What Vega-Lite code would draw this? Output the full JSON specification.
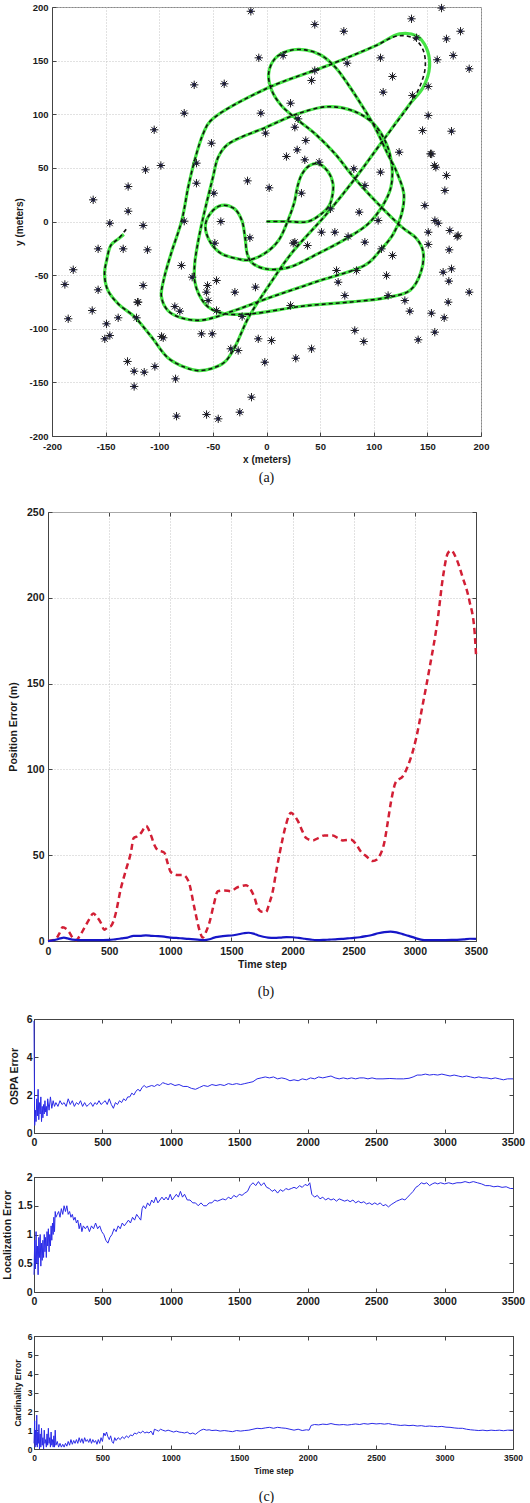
{
"$schema": "https://vega.github.io/schema/vega-lite/v6.json",
"background": "white",
"padding": {"left": 0, "top": 1, "right": 0, "bottom": 0},
"spacing": 10,
"config": {
  "font": "Liberation Sans",
  "view": {"stroke": "#888", "strokeWidth": 1},
  "axis": {"labelFont": "Liberation Sans", "labelFontWeight": "bold", "labelFontSize": 10, "labelColor": "#1a1a1a",
    "titleFont": "Liberation Sans", "titleFontWeight": "bold", "titleFontSize": 10, "titleColor": "#1a1a1a",
    "domainColor": "#444", "tickColor": "#444", "tickSize": -4, "labelPadding": 8,
    "gridColor": "#c4c4c4", "gridDash": [1, 2], "gridWidth": 1,
    "labelFlush": false, "labelOverlap": false, "labelBound": false, "labelExpr": "'' + datum.value"},
  "title": {"font": "Liberation Serif", "fontSize": 14, "fontWeight": "normal", "color": "#111"}
},
"datasets": {
  "traj": [
    {"i":0,"x":0,"y":0,"ex":0,"ey":0},{"i":1,"x":20,"y":0,"ex":20,"ey":0},{"i":2,"x":39,"y":0,"ex":39,"ey":0},{"i":3,"x":51,"y":7,"ex":51,"ey":7},
    {"i":4,"x":58,"y":14,"ex":58,"ey":14},{"i":5,"x":61,"y":22,"ex":61,"ey":22},{"i":6,"x":62,"y":35,"ex":62,"ey":35},{"i":7,"x":57,"y":47,"ex":57,"ey":47},
    {"i":8,"x":48,"y":54,"ex":48,"ey":54},{"i":9,"x":40,"y":52,"ex":40,"ey":52},{"i":10,"x":33,"y":44,"ex":33,"ey":44},{"i":11,"x":29,"y":33,"ex":29,"ey":33},
    {"i":12,"x":26,"y":18,"ex":26,"ey":18},{"i":13,"x":20,"y":1,"ex":20,"ey":1},{"i":14,"x":11,"y":-18,"ex":11,"ey":-18},{"i":15,"x":-2,"y":-30,"ex":-2,"ey":-30},
    {"i":16,"x":-17,"y":-36,"ex":-17,"ey":-36},{"i":17,"x":-26,"y":-35,"ex":-26,"ey":-35},{"i":18,"x":-42,"y":-30,"ex":-42,"ey":-30},{"i":19,"x":-52,"y":-20,"ex":-52,"ey":-20},
    {"i":20,"x":-57,"y":-4,"ex":-57,"ey":-4},{"i":21,"x":-52,"y":8,"ex":-52,"ey":8},{"i":22,"x":-42,"y":15,"ex":-42,"ey":15},{"i":23,"x":-30,"y":12,"ex":-30,"ey":12},
    {"i":24,"x":-23,"y":1,"ex":-23,"ey":1},{"i":25,"x":-20,"y":-15,"ex":-20,"ey":-15},{"i":26,"x":-18,"y":-30,"ex":-18,"ey":-30},{"i":27,"x":-14,"y":-38,"ex":-14,"ey":-38},
    {"i":28,"x":-2,"y":-44,"ex":-2,"ey":-44},{"i":29,"x":20,"y":-43,"ex":20,"ey":-43},{"i":30,"x":48,"y":-30,"ex":48,"ey":-30},{"i":31,"x":76,"y":-15,"ex":76,"ey":-15},
    {"i":32,"x":95,"y":-2,"ex":95,"ey":-2},{"i":33,"x":109,"y":16,"ex":109,"ey":16},{"i":34,"x":116,"y":32,"ex":116,"ey":32},{"i":35,"x":117,"y":51,"ex":117,"ey":51},
    {"i":36,"x":112,"y":72,"ex":112,"ey":72},{"i":37,"x":100,"y":91,"ex":100,"ey":91},{"i":38,"x":81,"y":103,"ex":81,"ey":103},{"i":39,"x":56,"y":107,"ex":56,"ey":107},
    {"i":40,"x":28,"y":100,"ex":28,"ey":100},{"i":41,"x":0,"y":88,"ex":0,"ey":88},{"i":42,"x":-36,"y":72,"ex":-36,"ey":72},{"i":43,"x":-45,"y":60,"ex":-45,"ey":60},
    {"i":44,"x":-50,"y":41,"ex":-50,"ey":41},{"i":45,"x":-59,"y":4,"ex":-59,"ey":4},{"i":46,"x":-64,"y":-20,"ex":-64,"ey":-20},{"i":47,"x":-67,"y":-40,"ex":-67,"ey":-40},
    {"i":48,"x":-67,"y":-55,"ex":-67,"ey":-55},{"i":49,"x":-63,"y":-68,"ex":-63,"ey":-68},{"i":50,"x":-54,"y":-80,"ex":-54,"ey":-80},{"i":51,"x":-39,"y":-86,"ex":-39,"ey":-86},
    {"i":52,"x":-14,"y":-86,"ex":-14,"ey":-86},{"i":53,"x":33,"y":-79,"ex":33,"ey":-79},{"i":54,"x":79,"y":-75,"ex":79,"ey":-75},{"i":55,"x":112,"y":-71,"ex":112,"ey":-71},
    {"i":56,"x":134,"y":-64,"ex":134,"ey":-64},{"i":57,"x":144,"y":-47,"ex":144,"ey":-47},{"i":58,"x":146,"y":-28,"ex":146,"ey":-28},{"i":59,"x":140,"y":-16,"ex":140,"ey":-16},
    {"i":60,"x":126,"y":-5,"ex":126,"ey":-5},{"i":61,"x":95,"y":26,"ex":95,"ey":26},{"i":62,"x":79,"y":44,"ex":79,"ey":44},{"i":63,"x":64,"y":63,"ex":64,"ey":63},
    {"i":64,"x":45,"y":82,"ex":45,"ey":82},{"i":65,"x":30,"y":94,"ex":30,"ey":94},{"i":66,"x":14,"y":108,"ex":14,"ey":108},{"i":67,"x":5,"y":122,"ex":5,"ey":122},
    {"i":68,"x":2,"y":138,"ex":2,"ey":138},{"i":69,"x":8,"y":152,"ex":8,"ey":152},{"i":70,"x":20,"y":159,"ex":20,"ey":159},{"i":71,"x":36,"y":160,"ex":36,"ey":160},
    {"i":72,"x":51,"y":155,"ex":51,"ey":155},{"i":73,"x":64,"y":144,"ex":64,"ey":144},{"i":74,"x":76,"y":128,"ex":76,"ey":128},{"i":75,"x":89,"y":108,"ex":89,"ey":108},
    {"i":76,"x":101,"y":88,"ex":101,"ey":88},{"i":77,"x":113,"y":63,"ex":113,"ey":63},{"i":78,"x":121,"y":47,"ex":121,"ey":47},{"i":79,"x":128,"y":26,"ex":128,"ey":26},
    {"i":80,"x":126,"y":7,"ex":126,"ey":7},{"i":81,"x":118,"y":-12,"ex":118,"ey":-12},{"i":82,"x":106,"y":-27,"ex":106,"ey":-27},{"i":83,"x":93,"y":-40,"ex":93,"ey":-40},
    {"i":84,"x":47,"y":-56,"ex":47,"ey":-56},{"i":85,"x":0,"y":-72,"ex":0,"ey":-72},{"i":86,"x":-30,"y":-83,"ex":-30,"ey":-83},{"i":87,"x":-60,"y":-92,"ex":-60,"ey":-92},
    {"i":88,"x":-79,"y":-90,"ex":-79,"ey":-90},{"i":89,"x":-92,"y":-83,"ex":-92,"ey":-83},{"i":90,"x":-98,"y":-70,"ex":-98,"ey":-70},{"i":91,"x":-96,"y":-55,"ex":-96,"ey":-55},
    {"i":92,"x":-89,"y":-30,"ex":-89,"ey":-30},{"i":93,"x":-79,"y":1,"ex":-79,"ey":1},{"i":94,"x":-73,"y":32,"ex":-73,"ey":32},{"i":95,"x":-67,"y":57,"ex":-67,"ey":57},
    {"i":96,"x":-59,"y":82,"ex":-59,"ey":82},{"i":97,"x":-52,"y":94,"ex":-52,"ey":94},{"i":98,"x":0,"y":124,"ex":0,"ey":124},{"i":99,"x":56,"y":145,"ex":56,"ey":145},
    {"i":100,"x":102,"y":164,"ex":102,"ey":164},{"i":101,"x":124,"y":175,"ex":122,"ey":173},{"i":102,"x":140,"y":173,"ex":137,"ey":171},{"i":103,"x":149,"y":162,"ex":146,"ey":160},
    {"i":104,"x":152,"y":144,"ex":148,"ey":144},{"i":105,"x":146,"y":125,"ex":143,"ey":126},{"i":106,"x":134,"y":110,"ex":134,"ey":110},{"i":107,"x":106,"y":72,"ex":106,"ey":72},
    {"i":108,"x":81,"y":38,"ex":81,"ey":38},{"i":109,"x":56,"y":7,"ex":56,"ey":7},{"i":110,"x":23,"y":-30,"ex":23,"ey":-30},{"i":111,"x":2,"y":-60,"ex":2,"ey":-60},
    {"i":112,"x":-17,"y":-90,"ex":-17,"ey":-90},{"i":113,"x":-30,"y":-118,"ex":-30,"ey":-118},{"i":114,"x":-39,"y":-131,"ex":-39,"ey":-131},{"i":115,"x":-51,"y":-137,"ex":-51,"ey":-137},
    {"i":116,"x":-64,"y":-139,"ex":-64,"ey":-139},{"i":117,"x":-76,"y":-136,"ex":-76,"ey":-136},{"i":118,"x":-92,"y":-127,"ex":-92,"ey":-127},{"i":119,"x":-107,"y":-108,"ex":-107,"ey":-108},
    {"i":120,"x":-123,"y":-89,"ex":-123,"ey":-89},{"i":121,"x":-138,"y":-77,"ex":-138,"ey":-77},{"i":122,"x":-148,"y":-64,"ex":-148,"ey":-64},{"i":123,"x":-151,"y":-49,"ex":-151,"ey":-49},
    {"i":124,"x":-149,"y":-36,"ex":-149,"ey":-36},{"i":125,"x":-145,"y":-22,"ex":-145,"ey":-22},{"i":126,"x":-138,"y":-16,"ex":-138,"ey":-16},{"i":127,"x":-133,"y":-12,"ex":-130,"ey":-6}
  ],
  "lm": [
    {"x":-14.6,"y":196},{"x":-7.2,"y":152.6},{"x":-67.4,"y":127.4},{"x":-39.4,"y":128.4},{"x":-76.7,"y":101},{"x":-5.3,"y":101},{"x":-104.7,"y":85.5},{"x":-51.3,"y":73},
    {"x":-112.8,"y":48.2},{"x":-98.5,"y":52.2},{"x":-65.3,"y":54.4},{"x":-65.3,"y":35.7},{"x":-17.7,"y":37.9},{"x":2.5,"y":31.4},{"x":-129,"y":32.6},{"x":-161.6,"y":20.2},
    {"x":-129,"y":9.6},{"x":-49.1,"y":26.4},{"x":-146.1,"y":-1.6},{"x":-115,"y":-3.7},{"x":-76.7,"y":0.3},{"x":-42.6,"y":0},{"x":-15.5,"y":-15.2},{"x":-48.2,"y":-20.2},
    {"x":-157,"y":-25.5},{"x":-133.6,"y":-25.5},{"x":-111,"y":-26.4},{"x":-180.2,"y":-45},{"x":-188,"y":-58.7},{"x":-157,"y":-63.7},{"x":-115,"y":-59.7},{"x":-79.3,"y":-41},
    {"x":-69.3,"y":-51.9},{"x":-55,"y":-59.7},{"x":-46.6,"y":-55},{"x":-29.5,"y":-65.9},{"x":-10.3,"y":-61.2},{"x":-56,"y":-65.9},{"x":-54.4,"y":-73.7},{"x":-120.3,"y":-75.2},
    {"x":-162.5,"y":-83},{"x":-184.9,"y":-90.7},{"x":-138.3,"y":-89.8},{"x":-149.2,"y":-95.4},{"x":-85.5,"y":-79.3},{"x":-80.8,"y":-83.6},{"x":-46.6,"y":-83},{"x":-22.7,"y":-88.6},
    {"x":-121.2,"y":-89.8},{"x":-150.8,"y":-109.4},{"x":-146.1,"y":-106.3},{"x":-96.3,"y":-108.4},{"x":-60.6,"y":-104.7},{"x":-50.6,"y":-104.7},{"x":-7.7,"y":-109.4},{"x":-33.3,"y":-118.7},
    {"x":-26.4,"y":-120.3},{"x":-1.6,"y":-131.2},{"x":-129.6,"y":-130.5},{"x":-123.4,"y":-139.6},{"x":-114,"y":-140.5},{"x":-104.1,"y":-135.2},{"x":-123.4,"y":-153.8},{"x":-84.8,"y":-146.7},
    {"x":-14,"y":-163.8},{"x":-24.9,"y":-177.8},{"x":-83.9,"y":-181.5},{"x":-55.9,"y":-180},{"x":-45,"y":-184},{"x":4.7,"y":-111},{"x":27.3,"y":-127.5},{"x":42,"y":-118.7},
    {"x":82.3,"y":-101.6},{"x":90.7,"y":-111.9},{"x":141.4,"y":-110.3},{"x":156.9,"y":-103.2},{"x":165.7,"y":-89.8},{"x":153.8,"y":-85.5},{"x":189,"y":-65.9},{"x":169.4,"y":-75.2},
    {"x":170,"y":-55.6},{"x":164.7,"y":-47.3},{"x":172.5,"y":-44.1},{"x":170.3,"y":-26.4},{"x":150.8,"y":-21.4},{"x":150.8,"y":-10},{"x":178.7,"y":-13},{"x":133.6,"y":-83.6},
    {"x":129,"y":-73.7},{"x":113.4,"y":-69},{"x":111.9,"y":-50.3},{"x":107.2,"y":-25.5},{"x":117.5,"y":-31.7},{"x":91.7,"y":-19.3},{"x":76.1,"y":-14},{"x":65.3,"y":-45.7},
    {"x":83.9,"y":-45.7},{"x":66.8,"y":-56.6},{"x":73,"y":-69},{"x":22.4,"y":-78.3},{"x":24.9,"y":-20.2},{"x":51.3,"y":-10},{"x":63.7,"y":-10},{"x":45,"y":183.7},
    {"x":72.1,"y":177.4},{"x":135.2,"y":189},{"x":163.2,"y":199},{"x":139.9,"y":171.3},{"x":167.8,"y":170.3},{"x":180.9,"y":177.4},{"x":159.2,"y":150.8},{"x":174.1,"y":154.8},
    {"x":189,"y":142.4},{"x":106.3,"y":152.6},{"x":75.2,"y":147.6},{"x":117.5,"y":135.2},{"x":108.8,"y":120.6},{"x":150.8,"y":125.9},{"x":136.1,"y":117.5},{"x":42,"y":131.5},
    {"x":22.4,"y":110.3},{"x":150.8,"y":98.8},{"x":145.5,"y":84.8},{"x":172.5,"y":84.2},{"x":26.4,"y":87.9},{"x":36.6,"y":75.5},{"x":28.6,"y":66.8},{"x":18.6,"y":60.6},
    {"x":35.7,"y":57.5},{"x":49.1,"y":55.3},{"x":123.7,"y":64.6},{"x":152.9,"y":63.1},{"x":157.9,"y":50.6},{"x":167.8,"y":42.9},{"x":166.3,"y":28.9},{"x":81.4,"y":49.1},
    {"x":106.3,"y":46},{"x":32.6,"y":26.4},{"x":91.7,"y":33.6},{"x":147.6,"y":14.9},{"x":59.7,"y":11.8},{"x":86.4,"y":8.7},{"x":104.1,"y":0.9},{"x":160.1,"y":-1.6},
    {"x":170.9,"y":-8.4},{"x":26.4,"y":-19.3},{"x":177.8,"y":-14},{"x":15.5,"y":154.8},{"x":45,"y":140.8},{"x":29.5,"y":95.7},{"x":-0.9,"y":82.4},{"x":38.2,"y":-22.4},
    {"x":157,"y":0.9},{"x":154,"y":63},{"x":156.6,"y":52.2},{"x":-97.9,"y":-107.2},{"x":-119.7,"y":-75.2}
  ],
  "pe": [
    {"t":0,"v":0},{"t":60,"v":1},{"t":90,"v":4},{"t":120,"v":8},{"t":150,"v":7},{"t":175,"v":5},{"t":200,"v":2},{"t":230,"v":0.5},{"t":260,"v":3},{"t":300,"v":8},
    {"t":340,"v":13},{"t":370,"v":16},{"t":400,"v":14},{"t":433,"v":10.5},{"t":460,"v":6.5},{"t":490,"v":8},{"t":515,"v":8.7},{"t":550,"v":15},{"t":597,"v":31},{"t":640,"v":42},
    {"t":679,"v":52},{"t":700,"v":60},{"t":730,"v":61},{"t":761,"v":63},{"t":802,"v":67},{"t":840,"v":62},{"t":870,"v":56},{"t":897,"v":53},{"t":951,"v":51.5},{"t":980,"v":45},
    {"t":1006,"v":40},{"t":1060,"v":38.5},{"t":1102,"v":38.5},{"t":1148,"v":35},{"t":1197,"v":19.4},{"t":1240,"v":6},{"t":1265,"v":2},{"t":1290,"v":5},{"t":1320,"v":10.7},{"t":1355,"v":21},
    {"t":1388,"v":29},{"t":1443,"v":29.5},{"t":1497,"v":29},{"t":1540,"v":31},{"t":1579,"v":32},{"t":1620,"v":32.5},{"t":1647,"v":31},{"t":1690,"v":25},{"t":1715,"v":19.4},{"t":1750,"v":17},
    {"t":1783,"v":17},{"t":1810,"v":22},{"t":1838,"v":29},{"t":1865,"v":40},{"t":1893,"v":50.5},{"t":1920,"v":60},{"t":1947,"v":68},{"t":1988,"v":74.8},{"t":2015,"v":73},{"t":2043,"v":70},
    {"t":2080,"v":64},{"t":2111,"v":60},{"t":2165,"v":58.6},{"t":2210,"v":60},{"t":2260,"v":61.5},{"t":2329,"v":61.5},{"t":2370,"v":60},{"t":2410,"v":58.6},{"t":2479,"v":59},{"t":2520,"v":56.3},
    {"t":2560,"v":52},{"t":2601,"v":49.5},{"t":2656,"v":46.6},{"t":2690,"v":47.5},{"t":2711,"v":49.5},{"t":2752,"v":58},{"t":2780,"v":70},{"t":2806,"v":81.6},{"t":2847,"v":93},{"t":2902,"v":96},
    {"t":2943,"v":102},{"t":2984,"v":110.7},{"t":3010,"v":118},{"t":3065,"v":138},{"t":3120,"v":159},{"t":3188,"v":188},{"t":3229,"v":211.7},{"t":3270,"v":226},{"t":3297,"v":227.6},{"t":3338,"v":223},
    {"t":3392,"v":211.7},{"t":3447,"v":198},{"t":3488,"v":180.6},{"t":3500,"v":167}
  ],
  "pb": [
    {"t":0,"v":0},{"t":50,"v":0.5},{"t":100,"v":1.5},{"t":130,"v":2},{"t":160,"v":1.5},{"t":200,"v":0.8},{"t":300,"v":0.5},{"t":400,"v":0.5},{"t":500,"v":0.6},{"t":550,"v":1},
    {"t":600,"v":1.5},{"t":650,"v":2},{"t":700,"v":3},{"t":750,"v":3},{"t":800,"v":3.3},{"t":850,"v":3},{"t":900,"v":2.8},{"t":950,"v":2.5},{"t":1000,"v":2},{"t":1050,"v":1.8},
    {"t":1100,"v":1.5},{"t":1150,"v":1.2},{"t":1200,"v":1},{"t":1250,"v":0.6},{"t":1280,"v":0.5},{"t":1320,"v":1},{"t":1360,"v":2},{"t":1400,"v":2.5},{"t":1450,"v":3},{"t":1500,"v":3.2},
    {"t":1550,"v":3.8},{"t":1600,"v":4.5},{"t":1640,"v":4.8},{"t":1680,"v":4.3},{"t":1720,"v":3.2},{"t":1760,"v":2.5},{"t":1800,"v":2},{"t":1850,"v":1.8},{"t":1900,"v":2},{"t":1950,"v":2.3},
    {"t":2000,"v":2.2},{"t":2050,"v":1.8},{"t":2100,"v":1.3},{"t":2150,"v":0.8},{"t":2200,"v":0.5},{"t":2250,"v":0.6},{"t":2300,"v":0.8},{"t":2350,"v":1},{"t":2400,"v":1.2},{"t":2450,"v":1.5},
    {"t":2500,"v":1.8},{"t":2550,"v":2.2},{"t":2600,"v":2.8},{"t":2650,"v":3.5},{"t":2700,"v":4.5},{"t":2750,"v":5.2},{"t":2800,"v":5.5},{"t":2850,"v":5},{"t":2900,"v":4},{"t":2950,"v":3},
    {"t":3000,"v":1.8},{"t":3050,"v":0.8},{"t":3100,"v":0.5},{"t":3200,"v":0.5},{"t":3300,"v":0.6},{"t":3400,"v":1},{"t":3450,"v":1.3},{"t":3500,"v":1.2}
  ],
  "ospa": [
    {"t":0,"v":5.9},{"t":5,"v":0.4},{"t":10,"v":1.2},{"t":15,"v":0.6},{"t":20,"v":1.8},{"t":25,"v":0.9},{"t":30,"v":2.3},{"t":35,"v":0.7},{"t":40,"v":1.6},{"t":45,"v":1.0},
    {"t":50,"v":1.9},{"t":55,"v":0.6},{"t":60,"v":1.4},{"t":65,"v":0.8},{"t":70,"v":1.5},{"t":75,"v":1.0},{"t":80,"v":1.7},{"t":85,"v":1.1},{"t":90,"v":1.4},{"t":95,"v":0.9},
    {"t":100,"v":1.8},{"t":110,"v":1.2},{"t":120,"v":1.9},{"t":130,"v":1.3},{"t":140,"v":1.7},{"t":150,"v":1.4},{"t":160,"v":1.6},{"t":175,"v":1.4},{"t":190,"v":1.7},{"t":205,"v":1.5},
    {"t":220,"v":1.6},{"t":235,"v":1.4},{"t":250,"v":1.8},{"t":265,"v":1.5},{"t":280,"v":1.7},{"t":295,"v":1.4},{"t":310,"v":1.6},{"t":325,"v":1.5},{"t":340,"v":1.7},{"t":355,"v":1.4},
    {"t":370,"v":1.6},{"t":385,"v":1.4},{"t":400,"v":1.5},{"t":415,"v":1.6},{"t":430,"v":1.4},{"t":445,"v":1.6},{"t":460,"v":1.5},{"t":475,"v":1.7},{"t":490,"v":1.5},{"t":505,"v":1.6},
    {"t":520,"v":1.7},{"t":535,"v":1.5},{"t":550,"v":1.8},{"t":565,"v":1.5},{"t":580,"v":1.3},{"t":595,"v":1.6},{"t":610,"v":1.5},{"t":625,"v":1.7},{"t":640,"v":1.6},{"t":655,"v":1.8},
    {"t":670,"v":1.7},{"t":685,"v":1.9},{"t":700,"v":1.9},{"t":715,"v":2.1},{"t":730,"v":2.0},{"t":745,"v":2.2},{"t":760,"v":2.3},{"t":775,"v":2.2},{"t":790,"v":2.4},{"t":805,"v":2.5},
    {"t":820,"v":2.4},{"t":840,"v":2.45},{"t":860,"v":2.5},{"t":880,"v":2.45},{"t":900,"v":2.55},{"t":920,"v":2.5},{"t":940,"v":2.65},{"t":960,"v":2.6},{"t":980,"v":2.55},{"t":1000,"v":2.6},
    {"t":1030,"v":2.5},{"t":1060,"v":2.55},{"t":1090,"v":2.45},{"t":1120,"v":2.45},{"t":1150,"v":2.35},{"t":1180,"v":2.3},{"t":1210,"v":2.4},{"t":1240,"v":2.5},{"t":1270,"v":2.45},{"t":1300,"v":2.55},
    {"t":1330,"v":2.5},{"t":1360,"v":2.55},{"t":1390,"v":2.5},{"t":1420,"v":2.6},{"t":1450,"v":2.55},{"t":1480,"v":2.6},{"t":1510,"v":2.55},{"t":1540,"v":2.6},{"t":1570,"v":2.65},{"t":1600,"v":2.7},
    {"t":1630,"v":2.85},{"t":1660,"v":2.9},{"t":1690,"v":2.95},{"t":1720,"v":2.9},{"t":1750,"v":2.95},{"t":1780,"v":2.85},{"t":1810,"v":2.9},{"t":1840,"v":2.85},{"t":1870,"v":2.75},{"t":1900,"v":2.8},
    {"t":1930,"v":2.75},{"t":1960,"v":2.85},{"t":1990,"v":2.8},{"t":2020,"v":2.9},{"t":2050,"v":2.85},{"t":2080,"v":2.95},{"t":2110,"v":2.9},{"t":2140,"v":2.95},{"t":2170,"v":3.0},{"t":2200,"v":2.9},
    {"t":2230,"v":2.85},{"t":2260,"v":2.9},{"t":2290,"v":2.85},{"t":2320,"v":2.9},{"t":2350,"v":2.85},{"t":2380,"v":2.9},{"t":2410,"v":2.9},{"t":2440,"v":2.85},{"t":2470,"v":2.9},{"t":2500,"v":2.85},
    {"t":2550,"v":2.85},{"t":2600,"v":2.87},{"t":2650,"v":2.85},{"t":2700,"v":2.85},{"t":2740,"v":2.88},{"t":2770,"v":2.95},{"t":2800,"v":3.05},{"t":2830,"v":3.05},{"t":2860,"v":3.1},{"t":2890,"v":3.05},
    {"t":2920,"v":3.08},{"t":2950,"v":3.05},{"t":2980,"v":3.1},{"t":3010,"v":3.05},{"t":3040,"v":3.0},{"t":3070,"v":3.05},{"t":3100,"v":3.0},{"t":3130,"v":2.95},{"t":3160,"v":3.0},{"t":3190,"v":2.95},
    {"t":3220,"v":2.9},{"t":3250,"v":2.95},{"t":3280,"v":2.9},{"t":3310,"v":2.9},{"t":3340,"v":2.85},{"t":3370,"v":2.9},{"t":3400,"v":2.85},{"t":3430,"v":2.8},{"t":3460,"v":2.85},{"t":3500,"v":2.85}
  ],
  "loc": [
    {"t":0,"v":0.3},{"t":5,"v":0.9},{"t":10,"v":0.4},{"t":15,"v":1.05},{"t":20,"v":0.5},{"t":25,"v":0.8},{"t":30,"v":0.3},{"t":35,"v":0.95},{"t":40,"v":0.6},{"t":45,"v":1.0},
    {"t":50,"v":0.45},{"t":55,"v":0.85},{"t":60,"v":0.55},{"t":65,"v":0.9},{"t":70,"v":0.6},{"t":75,"v":1.0},{"t":80,"v":0.7},{"t":85,"v":0.95},{"t":90,"v":0.6},{"t":95,"v":1.05},
    {"t":100,"v":0.8},{"t":105,"v":1.1},{"t":110,"v":0.7},{"t":115,"v":1.0},{"t":120,"v":0.8},{"t":125,"v":1.15},{"t":130,"v":0.9},{"t":135,"v":1.2},{"t":140,"v":1.0},{"t":145,"v":1.3},
    {"t":150,"v":1.05},{"t":155,"v":1.4},{"t":160,"v":1.3},{"t":170,"v":1.35},{"t":180,"v":1.4},{"t":190,"v":1.3},{"t":200,"v":1.45},{"t":210,"v":1.35},{"t":220,"v":1.5},{"t":230,"v":1.4},
    {"t":240,"v":1.5},{"t":250,"v":1.35},{"t":260,"v":1.4},{"t":270,"v":1.3},{"t":280,"v":1.35},{"t":290,"v":1.25},{"t":300,"v":1.3},{"t":310,"v":1.2},{"t":320,"v":1.25},{"t":330,"v":1.1},
    {"t":340,"v":1.2},{"t":350,"v":1.05},{"t":360,"v":1.15},{"t":375,"v":1.1},{"t":390,"v":1.15},{"t":405,"v":1.05},{"t":420,"v":1.15},{"t":435,"v":1.1},{"t":450,"v":1.2},{"t":465,"v":1.1},
    {"t":480,"v":1.15},{"t":495,"v":1.05},{"t":510,"v":1.0},{"t":525,"v":0.9},{"t":540,"v":0.85},{"t":555,"v":0.95},{"t":570,"v":1.0},{"t":585,"v":1.1},{"t":600,"v":1.05},{"t":615,"v":1.15},
    {"t":630,"v":1.1},{"t":645,"v":1.2},{"t":660,"v":1.15},{"t":675,"v":1.2},{"t":690,"v":1.25},{"t":705,"v":1.2},{"t":720,"v":1.3},{"t":735,"v":1.25},{"t":750,"v":1.35},{"t":765,"v":1.3},
    {"t":780,"v":1.25},{"t":790,"v":1.45},{"t":800,"v":1.5},{"t":815,"v":1.45},{"t":830,"v":1.55},{"t":845,"v":1.5},{"t":860,"v":1.6},{"t":875,"v":1.55},{"t":890,"v":1.65},{"t":905,"v":1.55},
    {"t":920,"v":1.6},{"t":935,"v":1.65},{"t":950,"v":1.6},{"t":965,"v":1.65},{"t":980,"v":1.6},{"t":995,"v":1.7},{"t":1010,"v":1.6},{"t":1025,"v":1.65},{"t":1040,"v":1.7},{"t":1055,"v":1.65},
    {"t":1070,"v":1.75},{"t":1085,"v":1.65},{"t":1100,"v":1.7},{"t":1120,"v":1.6},{"t":1140,"v":1.6},{"t":1160,"v":1.55},{"t":1180,"v":1.55},{"t":1200,"v":1.5},{"t":1220,"v":1.55},{"t":1240,"v":1.5},
    {"t":1260,"v":1.5},{"t":1280,"v":1.55},{"t":1300,"v":1.55},{"t":1320,"v":1.6},{"t":1340,"v":1.58},{"t":1360,"v":1.6},{"t":1380,"v":1.62},{"t":1400,"v":1.6},{"t":1420,"v":1.65},{"t":1440,"v":1.62},
    {"t":1460,"v":1.68},{"t":1480,"v":1.65},{"t":1500,"v":1.7},{"t":1520,"v":1.68},{"t":1540,"v":1.72},{"t":1560,"v":1.75},{"t":1580,"v":1.85},{"t":1600,"v":1.9},{"t":1620,"v":1.85},{"t":1640,"v":1.92},
    {"t":1660,"v":1.85},{"t":1680,"v":1.9},{"t":1700,"v":1.82},{"t":1720,"v":1.8},{"t":1740,"v":1.75},{"t":1760,"v":1.78},{"t":1780,"v":1.72},{"t":1800,"v":1.78},{"t":1820,"v":1.75},{"t":1840,"v":1.8},
    {"t":1860,"v":1.78},{"t":1880,"v":1.8},{"t":1900,"v":1.82},{"t":1920,"v":1.8},{"t":1940,"v":1.85},{"t":1960,"v":1.82},{"t":1980,"v":1.87},{"t":2000,"v":1.85},{"t":2015,"v":1.9},{"t":2030,"v":1.7},
    {"t":2050,"v":1.65},{"t":2070,"v":1.68},{"t":2090,"v":1.62},{"t":2110,"v":1.65},{"t":2130,"v":1.6},{"t":2150,"v":1.63},{"t":2170,"v":1.6},{"t":2190,"v":1.62},{"t":2210,"v":1.58},{"t":2230,"v":1.62},
    {"t":2250,"v":1.6},{"t":2270,"v":1.58},{"t":2290,"v":1.6},{"t":2310,"v":1.57},{"t":2330,"v":1.6},{"t":2350,"v":1.55},{"t":2370,"v":1.58},{"t":2390,"v":1.55},{"t":2410,"v":1.57},{"t":2430,"v":1.53},
    {"t":2450,"v":1.55},{"t":2470,"v":1.52},{"t":2490,"v":1.55},{"t":2510,"v":1.52},{"t":2530,"v":1.55},{"t":2550,"v":1.5},{"t":2570,"v":1.52},{"t":2590,"v":1.48},{"t":2610,"v":1.52},{"t":2630,"v":1.55},
    {"t":2650,"v":1.58},{"t":2670,"v":1.6},{"t":2690,"v":1.62},{"t":2710,"v":1.6},{"t":2730,"v":1.65},{"t":2750,"v":1.7},{"t":2770,"v":1.75},{"t":2790,"v":1.82},{"t":2810,"v":1.85},{"t":2830,"v":1.9},
    {"t":2850,"v":1.88},{"t":2870,"v":1.9},{"t":2890,"v":1.85},{"t":2910,"v":1.88},{"t":2930,"v":1.9},{"t":2950,"v":1.88},{"t":2970,"v":1.9},{"t":3000,"v":1.88},{"t":3030,"v":1.9},{"t":3060,"v":1.88},
    {"t":3090,"v":1.9},{"t":3120,"v":1.9},{"t":3150,"v":1.92},{"t":3180,"v":1.9},{"t":3210,"v":1.92},{"t":3240,"v":1.9},{"t":3270,"v":1.88},{"t":3300,"v":1.85},{"t":3330,"v":1.85},{"t":3360,"v":1.83},
    {"t":3390,"v":1.84},{"t":3420,"v":1.82},{"t":3450,"v":1.83},{"t":3480,"v":1.8},{"t":3500,"v":1.8}
  ],
  "card": [
    {"t":0,"v":0.3},{"t":5,"v":1.5},{"t":8,"v":0.1},{"t":12,"v":1.0},{"t":16,"v":0.2},{"t":20,"v":1.8},{"t":24,"v":0.1},{"t":28,"v":0.9},{"t":32,"v":0.3},{"t":36,"v":1.3},
    {"t":40,"v":0.0},{"t":45,"v":0.8},{"t":50,"v":0.1},{"t":55,"v":1.1},{"t":60,"v":0.2},{"t":65,"v":0.6},{"t":70,"v":0.0},{"t":75,"v":1.0},{"t":80,"v":0.3},{"t":85,"v":0.5},
    {"t":90,"v":0.1},{"t":95,"v":0.8},{"t":100,"v":0.2},{"t":105,"v":1.1},{"t":110,"v":0.3},{"t":115,"v":0.6},{"t":120,"v":0.1},{"t":125,"v":0.9},{"t":130,"v":0.2},{"t":135,"v":0.5},
    {"t":140,"v":0.1},{"t":145,"v":0.7},{"t":150,"v":0.1},{"t":155,"v":1.0},{"t":160,"v":0.2},{"t":170,"v":0.4},{"t":180,"v":0.1},{"t":190,"v":0.3},{"t":200,"v":0.1},{"t":210,"v":0.25},
    {"t":220,"v":0.1},{"t":230,"v":0.3},{"t":240,"v":0.15},{"t":250,"v":0.4},{"t":260,"v":0.2},{"t":270,"v":0.5},{"t":280,"v":0.25},{"t":290,"v":0.45},{"t":300,"v":0.3},{"t":310,"v":0.5},
    {"t":320,"v":0.3},{"t":330,"v":0.6},{"t":340,"v":0.35},{"t":350,"v":0.55},{"t":360,"v":0.3},{"t":370,"v":0.6},{"t":380,"v":0.4},{"t":390,"v":0.5},{"t":400,"v":0.35},{"t":410,"v":0.55},
    {"t":420,"v":0.3},{"t":430,"v":0.5},{"t":440,"v":0.35},{"t":450,"v":0.45},{"t":460,"v":0.25},{"t":470,"v":0.5},{"t":480,"v":0.3},{"t":490,"v":0.6},{"t":500,"v":0.4},{"t":510,"v":0.85},
    {"t":520,"v":0.7},{"t":530,"v":0.9},{"t":540,"v":0.65},{"t":550,"v":0.5},{"t":560,"v":0.7},{"t":570,"v":0.4},{"t":580,"v":0.3},{"t":590,"v":0.6},{"t":600,"v":0.45},{"t":615,"v":0.6},
    {"t":630,"v":0.5},{"t":645,"v":0.65},{"t":660,"v":0.55},{"t":675,"v":0.7},{"t":690,"v":0.6},{"t":705,"v":0.75},{"t":720,"v":0.7},{"t":735,"v":0.85},{"t":750,"v":0.8},{"t":765,"v":0.9},
    {"t":780,"v":0.85},{"t":795,"v":0.95},{"t":810,"v":0.85},{"t":825,"v":0.9},{"t":840,"v":0.85},{"t":855,"v":0.95},{"t":870,"v":0.75},{"t":880,"v":1.05},{"t":895,"v":1.0},{"t":910,"v":0.95},
    {"t":925,"v":1.05},{"t":940,"v":1.0},{"t":960,"v":0.95},{"t":980,"v":1.0},{"t":1000,"v":0.95},{"t":1020,"v":0.9},{"t":1040,"v":0.95},{"t":1060,"v":0.9},{"t":1080,"v":0.88},{"t":1100,"v":0.85},
    {"t":1120,"v":0.9},{"t":1140,"v":0.8},{"t":1160,"v":0.85},{"t":1180,"v":0.78},{"t":1200,"v":0.9},{"t":1220,"v":1.0},{"t":1240,"v":1.05},{"t":1260,"v":1.0},{"t":1280,"v":1.02},{"t":1300,"v":0.98},
    {"t":1330,"v":1.0},{"t":1360,"v":0.95},{"t":1390,"v":0.98},{"t":1420,"v":0.95},{"t":1450,"v":0.92},{"t":1480,"v":0.98},{"t":1510,"v":0.95},{"t":1540,"v":0.98},{"t":1570,"v":1.0},{"t":1600,"v":1.05},
    {"t":1630,"v":1.1},{"t":1660,"v":1.08},{"t":1690,"v":1.12},{"t":1720,"v":1.15},{"t":1750,"v":1.1},{"t":1780,"v":1.15},{"t":1810,"v":1.12},{"t":1840,"v":1.1},{"t":1870,"v":1.05},{"t":1900,"v":1.0},
    {"t":1930,"v":1.05},{"t":1960,"v":0.98},{"t":1990,"v":1.02},{"t":2010,"v":1.0},{"t":2025,"v":1.25},{"t":2050,"v":1.3},{"t":2080,"v":1.28},{"t":2110,"v":1.32},{"t":2140,"v":1.3},{"t":2170,"v":1.35},
    {"t":2200,"v":1.3},{"t":2230,"v":1.28},{"t":2260,"v":1.3},{"t":2290,"v":1.27},{"t":2320,"v":1.3},{"t":2350,"v":1.33},{"t":2380,"v":1.3},{"t":2410,"v":1.35},{"t":2440,"v":1.32},{"t":2470,"v":1.36},
    {"t":2500,"v":1.33},{"t":2530,"v":1.35},{"t":2560,"v":1.32},{"t":2590,"v":1.35},{"t":2620,"v":1.3},{"t":2650,"v":1.28},{"t":2680,"v":1.25},{"t":2710,"v":1.27},{"t":2740,"v":1.24},{"t":2770,"v":1.26},
    {"t":2800,"v":1.22},{"t":2830,"v":1.24},{"t":2860,"v":1.2},{"t":2890,"v":1.22},{"t":2920,"v":1.2},{"t":2950,"v":1.18},{"t":2980,"v":1.2},{"t":3010,"v":1.16},{"t":3040,"v":1.15},{"t":3070,"v":1.12},
    {"t":3100,"v":1.1},{"t":3130,"v":1.1},{"t":3160,"v":1.05},{"t":3190,"v":1.02},{"t":3220,"v":1.0},{"t":3250,"v":0.98},{"t":3280,"v":1.0},{"t":3310,"v":0.97},{"t":3340,"v":1.0},{"t":3370,"v":0.98},
    {"t":3400,"v":1.0},{"t":3430,"v":0.97},{"t":3460,"v":1.0},{"t":3500,"v":1.0}
  ]
},
"vconcat": [
  {
    "spacing": 12,
    "hconcat": [
      {"width": 1, "height": 1, "data": {"values": [{"k": 0}]}, "mark": {"type": "text", "text": ""}, "view": {"stroke": null}},
      {
        "width": 429, "height": 429,
        "title": {"text": "(a)", "orient": "bottom", "anchor": "middle", "offset": 7},
        "layer": [
          {"data": {"name": "traj"}, "mark": {"type": "line", "color": "#45e445", "strokeWidth": 3.2, "interpolate": "catmull-rom"},
           "encoding": {
             "x": {"field": "x", "type": "quantitative", "scale": {"domain": [-200, 200], "nice": false, "zero": false},
                   "axis": {"title": "x (meters)", "values": [-200,-150,-100,-50,0,50,100,150,200], "grid": true, "labelFontSize": 9.5,
                            "titleX": 214.5, "titleY": 23, "titleBaseline": "middle", "titleAlign": "center", "labelPadding": 9}},
             "y": {"field": "y", "type": "quantitative", "scale": {"domain": [-200, 200], "nice": false, "zero": false},
                   "axis": {"title": "y (meters)", "values": [-200,-150,-100,-50,0,50,100,150,200], "grid": true, "labelFontSize": 9.5,
                            "minExtent": 38, "maxExtent": 38,
                            "titleX": -33, "titleY": 214.5, "titleAngle": 270, "titleBaseline": "middle", "titleAlign": "center"}},
             "order": {"field": "i", "type": "quantitative"}}},
          {"data": {"name": "traj"}, "mark": {"type": "line", "color": "#111", "strokeWidth": 1.6, "strokeDash": [4, 3], "interpolate": "catmull-rom"},
           "encoding": {
             "x": {"field": "ex", "type": "quantitative", "title": "x (meters)"},
             "y": {"field": "ey", "type": "quantitative", "title": "y (meters)"},
             "order": {"field": "i", "type": "quantitative"}}},
          {"data": {"name": "lm"}, "mark": {"type": "point", "shape": "circle", "filled": true, "color": "#2020a0", "size": 16, "opacity": 1},
           "encoding": {
             "x": {"field": "x", "type": "quantitative", "title": "x (meters)"},
             "y": {"field": "y", "type": "quantitative", "title": "y (meters)"}}},
          {"data": {"name": "lm"}, "mark": {"type": "point", "shape": "M0,-1L0,1M-1,0L1,0M-0.7,-0.7L0.7,0.7M-0.7,0.7L0.7,-0.7", "filled": false, "color": "#222", "strokeWidth": 1, "size": 70, "opacity": 1},
           "encoding": {
             "x": {"field": "x", "type": "quantitative", "title": "x (meters)"},
             "y": {"field": "y", "type": "quantitative", "title": "y (meters)"}}}
        ]
      }
    ]
  },
  {
    "spacing": 5,
    "hconcat": [
      {"width": 1, "height": 1, "data": {"values": [{"k": 0}]}, "mark": {"type": "text", "text": ""}, "view": {"stroke": null}},
      {
        "width": 428, "height": 429,
        "title": {"text": "(b)", "orient": "bottom", "anchor": "middle", "offset": 15, "dx": 4},
        "resolve": {"axis": {"x": "independent", "y": "independent"}},
        "layer": [
          {"data": {"name": "pe"}, "mark": {"type": "line", "color": "#d21f35", "strokeWidth": 2.5, "strokeDash": [6, 4], "interpolate": "monotone"},
           "encoding": {
             "x": {"field": "t", "type": "quantitative", "scale": {"domain": [0, 3500], "nice": false},
                   "axis": {"title": "Time step", "values": [0,500,1000,1500,2000,2500,3000,3500], "grid": true, "labelFontSize": 10.5, "titleFontSize": 10.5,
                            "titleX": 214, "titleY": 23, "titleBaseline": "middle", "titleAlign": "center", "labelPadding": 9}},
             "y": {"field": "v", "type": "quantitative", "scale": {"domain": [0, 250], "nice": false},
                   "axis": {"title": "Position Error (m)", "values": [0,50,100,150,200,250], "grid": true, "labelFontSize": 10.5, "titleFontSize": 10.5,
                            "minExtent": 41, "maxExtent": 41,
                            "titleX": -35, "titleY": 214.5, "titleAngle": 270, "titleBaseline": "middle", "titleAlign": "center"}}}},
          {"data": {"name": "pb"}, "mark": {"type": "line", "color": "#1616c8", "strokeWidth": 2.2, "interpolate": "monotone"},
           "encoding": {
             "x": {"field": "t", "type": "quantitative", "axis": {"orient": "top", "labels": false, "title": null, "grid": false, "values": [0,500,1000,1500,2000,2500,3000,3500], "domainColor": "#aaa", "minExtent": 15, "maxExtent": 15}},
             "y": {"field": "v", "type": "quantitative", "axis": {"orient": "right", "labels": false, "title": null, "grid": false, "values": [0,50,100,150,200,250]}}}}
        ]
      }
    ]
  },
  {
    "spacing": 0,
    "hconcat": [
      {"width": 1, "height": 1, "data": {"values": [{"k": 0}]}, "mark": {"type": "text", "text": ""}, "view": {"stroke": null}},
      {
        "spacing": 15,
        "vconcat": [
          {
            "width": 479, "height": 114,
            "resolve": {"axis": {"x": "independent", "y": "independent"}},
            "layer": [
              {"data": {"name": "ospa"}, "mark": {"type": "line", "color": "#2a2ae8", "strokeWidth": 1},
               "encoding": {
                 "x": {"field": "t", "type": "quantitative", "scale": {"domain": [0, 3500], "nice": false},
                       "axis": {"title": null, "values": [0,500,1000,1500,2000,2500,3000,3500], "grid": false, "labelFontSize": 10.5, "labelPadding": 8, "minExtent": 18, "maxExtent": 18}},
                 "y": {"field": "v", "type": "quantitative", "scale": {"domain": [0, 6], "nice": false},
                       "axis": {"title": "OSPA Error", "values": [0,2,4,6], "grid": false, "labelFontSize": 10.5, "titleFontSize": 10.5, "labelPadding": 6,
                                "minExtent": 32, "maxExtent": 32,
                                "titleX": -20, "titleY": 57, "titleAngle": 270, "titleBaseline": "middle", "titleAlign": "center"}}}},
              {"data": {"name": "ospa"}, "mark": {"type": "line", "opacity": 0},
               "encoding": {
                 "x": {"field": "t", "type": "quantitative", "axis": {"orient": "top", "labels": false, "title": null, "grid": false, "values": [0,500,1000,1500,2000,2500,3000,3500], "minExtent": 9, "maxExtent": 9}},
                 "y": {"field": "v", "type": "quantitative", "axis": {"orient": "right", "labels": false, "title": null, "grid": false, "values": [0,2,4,6]}}}}
            ]
          },
          {
            "width": 479, "height": 115,
            "resolve": {"axis": {"x": "independent", "y": "independent"}},
            "layer": [
              {"data": {"name": "loc"}, "mark": {"type": "line", "color": "#2a2ae8", "strokeWidth": 1},
               "encoding": {
                 "x": {"field": "t", "type": "quantitative", "scale": {"domain": [0, 3500], "nice": false},
                       "axis": {"title": null, "values": [0,500,1000,1500,2000,2500,3000,3500], "grid": false, "labelFontSize": 10.5, "labelPadding": 8, "minExtent": 18, "maxExtent": 18}},
                 "y": {"field": "v", "type": "quantitative", "scale": {"domain": [0, 2], "nice": false},
                       "axis": {"title": "Localization Error", "values": [0,0.5,1,1.5,2], "grid": false, "labelFontSize": 10.5, "titleFontSize": 10.5, "labelPadding": 6,
                                "minExtent": 32, "maxExtent": 32,
                                "titleX": -26.5, "titleY": 57.5, "titleAngle": 270, "titleBaseline": "middle", "titleAlign": "center"}}}},
              {"data": {"name": "loc"}, "mark": {"type": "line", "opacity": 0},
               "encoding": {
                 "x": {"field": "t", "type": "quantitative", "axis": {"orient": "top", "labels": false, "title": null, "grid": false, "values": [0,500,1000,1500,2000,2500,3000,3500], "minExtent": 9, "maxExtent": 9}},
                 "y": {"field": "v", "type": "quantitative", "axis": {"orient": "right", "labels": false, "title": null, "grid": false, "values": [0,0.5,1,1.5,2]}}}}
            ]
          },
          {
            "width": 479, "height": 113,
            "title": {"text": "(c)", "orient": "bottom", "anchor": "middle", "offset": 15, "dx": -7},
            "resolve": {"axis": {"x": "independent", "y": "independent"}},
            "layer": [
              {"data": {"name": "card"}, "mark": {"type": "line", "color": "#2a2ae8", "strokeWidth": 1},
               "encoding": {
                 "x": {"field": "t", "type": "quantitative", "scale": {"domain": [0, 3500], "nice": false},
                       "axis": {"title": "Time step", "values": [0,500,1000,1500,2000,2500,3000,3500], "grid": false, "labelFontSize": 8.5, "titleFontSize": 8.5, "labelPadding": 8,
                                "titleX": 239.5, "titleY": 21, "titleBaseline": "middle", "titleAlign": "center"}},
                 "y": {"field": "v", "type": "quantitative", "scale": {"domain": [0, 6], "nice": false},
                       "axis": {"title": "Cardinality Error", "values": [0,1,2,3,4,5,6], "grid": false, "labelFontSize": 8.5, "titleFontSize": 8.5, "labelPadding": 6,
                                "minExtent": 32, "maxExtent": 32,
                                "titleX": -17, "titleY": 56.5, "titleAngle": 270, "titleBaseline": "middle", "titleAlign": "center"}}}},
              {"data": {"name": "card"}, "mark": {"type": "line", "opacity": 0},
               "encoding": {
                 "x": {"field": "t", "type": "quantitative", "axis": {"orient": "top", "labels": false, "title": null, "grid": false, "values": [0,500,1000,1500,2000,2500,3000,3500], "minExtent": 9, "maxExtent": 9}},
                 "y": {"field": "v", "type": "quantitative", "axis": {"orient": "right", "labels": false, "title": null, "grid": false, "values": [0,1,2,3,4,5,6]}}}}
            ]
          }
        ]
      }
    ]
  }
]
}
